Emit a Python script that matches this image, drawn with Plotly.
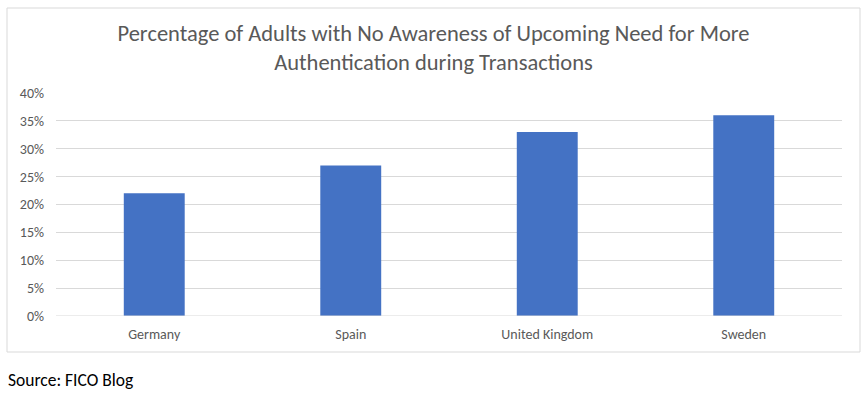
import plotly.graph_objects as go

countries = ["Germany", "Spain", "United Kingdom", "Sweden"]
values = [0.22, 0.27, 0.33, 0.36]
tick_vals = [0, 0.05, 0.10, 0.15, 0.20, 0.25, 0.30, 0.35, 0.40]
tick_text = ["0%", "5%", "10%", "15%", "20%", "25%", "30%", "35%", "40%"]

W, H = 868, 395
L, R, T, B = 56, 26, 93, 79
pw, ph = W - L - R, H - T - B

def px_x(x):
    return (x - L) / pw

def px_y(y):
    return (H - B - y) / ph

font_family = "Carlito, Calibri, Lato, 'Open Sans', sans-serif"

fig = go.Figure(go.Bar(x=countries, y=values, marker_color="#4472c4",
                       marker_line_width=0, hoverinfo="skip"))

fig.update_layout(
    width=W, height=H,
    margin=dict(l=L, r=R, t=T, b=B),
    paper_bgcolor="white", plot_bgcolor="white",
    bargap=0.69,
    showlegend=False,
    font=dict(family=font_family, color="#595959"),
    title=dict(text="Percentage of Adults with No Awareness of Upcoming Need for More<br>Authentication during Transactions",
               x=433.5 / W, xanchor="center", xref="container",
               y=1 - 40.5 / H, yanchor="middle",
               font=dict(size=22.5, color="#595959", family=font_family)),
    xaxis=dict(showgrid=False, showline=False, ticks="",
               ticklabelstandoff=8,
               tickfont=dict(size=14, color="#595959")),
    yaxis=dict(range=[0, 0.40], tickvals=tick_vals, ticktext=tick_text,
               showgrid=True, gridcolor="#d9d9d9", gridwidth=1,
               zeroline=False, showline=False, ticks="",
               ticklabelstandoff=11,
               tickfont=dict(size=14, color="#595959")),
    shapes=[dict(type="line", xref="paper", yref="y", x0=0, x1=1, y0=0, y1=0,
                 line=dict(color="#d9d9d9", width=1)),
            dict(type="rect", xref="paper", yref="paper",
                 x0=px_x(7), x1=px_x(860), y0=px_y(352), y1=px_y(8),
                 line=dict(color="#d9d9d9", width=1), layer="below")],
    annotations=[dict(text="Source: FICO Blog", xref="paper", yref="paper",
                      x=px_x(6), y=px_y(380), xanchor="left", yanchor="middle",
                      showarrow=False,
                      font=dict(size=17.5, color="#000000", family=font_family))],
)

fig.write_html("out.html", config={"displayModeBar": False},
               post_script="document.body.style.margin='0';document.body.style.padding='0';")
